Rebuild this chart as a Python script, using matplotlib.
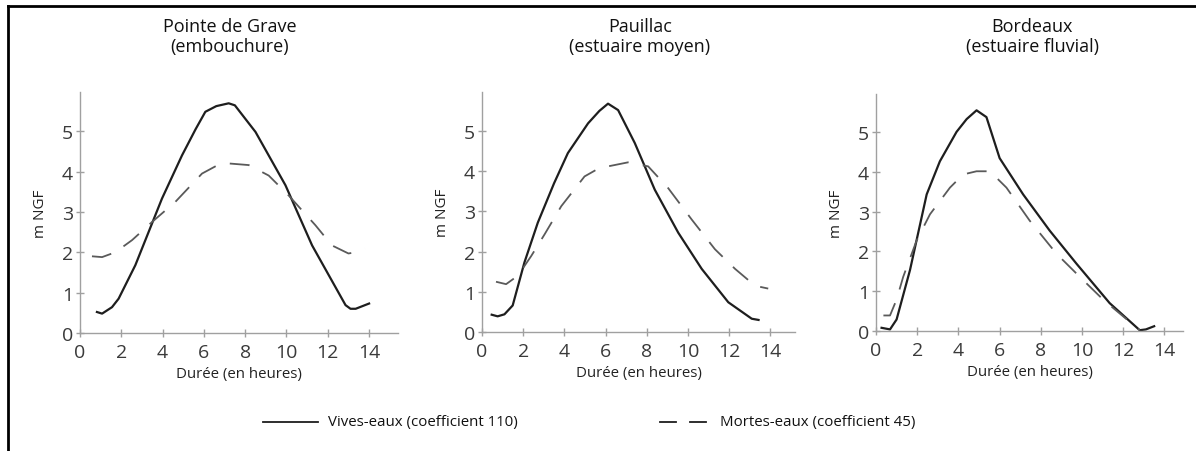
import matplotlib
matplotlib.use("Agg")
import matplotlib.pyplot as plt
from matplotlib.lines import Line2D

plt.rcParams['font.family'] = ['Open Sans', 'DejaVu Sans']

titles = ["Pointe de Grave\n(embouchure)", "Pauillac\n(estuaire moyen)", "Bordeaux\n(estuaire fluvial)"]

# Pointe de Grave
pg_vives_x = [0.82, 1.07, 1.55, 1.87, 2.68, 3.97, 4.94, 5.6, 6.07, 6.6, 7.2, 7.5, 8.5, 9.95, 11.24, 12.86, 13.1, 13.35, 14.0]
pg_vives_y = [0.52, 0.48, 0.64, 0.85, 1.68, 3.33, 4.40, 5.05, 5.48, 5.62, 5.69, 5.64, 4.98, 3.66, 2.17, 0.69, 0.60, 0.60, 0.73]
pg_mortes_x = [0.58, 1.07, 1.71, 2.52, 3.49, 4.62, 5.91, 6.6, 7.2, 8.17, 9.14, 10.1, 11.4, 12.2, 13.0, 13.35, 13.8]
pg_mortes_y = [1.90, 1.88, 2.00, 2.30, 2.75, 3.25, 3.95, 4.14, 4.20, 4.16, 3.90, 3.41, 2.67, 2.17, 1.97, 2.00, 2.09]

# Pauillac
pa_vives_x = [0.47, 0.76, 1.09, 1.49, 2.06, 2.71, 3.5, 4.17, 5.15, 5.7, 6.12, 6.61, 7.42, 8.39, 9.53, 10.67, 11.96, 13.1, 13.43]
pa_vives_y = [0.43, 0.39, 0.44, 0.66, 1.73, 2.72, 3.70, 4.45, 5.19, 5.50, 5.68, 5.52, 4.70, 3.54, 2.47, 1.57, 0.74, 0.33, 0.30]
pa_mortes_x = [0.68, 1.17, 1.74, 2.39, 3.04, 3.85, 4.98, 5.6, 6.12, 7.09, 8.07, 9.04, 10.18, 11.31, 12.29, 13.26, 13.9]
pa_mortes_y = [1.25, 1.19, 1.40, 1.89, 2.43, 3.13, 3.87, 4.05, 4.12, 4.22, 4.12, 3.58, 2.80, 2.06, 1.57, 1.15, 1.08]

# Bordeaux
bx_vives_x = [0.27, 0.68, 1.0, 1.65, 2.46, 3.1, 3.91, 4.4, 4.88, 5.36, 6.0, 7.14, 8.43, 9.73, 11.34, 12.8, 13.1, 13.5]
bx_vives_y = [0.08, 0.04, 0.29, 1.53, 3.43, 4.26, 5.00, 5.32, 5.54, 5.37, 4.34, 3.43, 2.52, 1.69, 0.70, 0.02, 0.04, 0.12]
bx_mortes_x = [0.36, 0.68, 1.0, 1.32, 1.97, 2.62, 3.59, 4.23, 4.88, 5.53, 6.33, 7.46, 8.76, 9.89, 11.02, 11.99, 12.8]
bx_mortes_y = [0.39, 0.39, 0.79, 1.36, 2.27, 2.93, 3.60, 3.93, 4.01, 4.01, 3.60, 2.77, 1.94, 1.36, 0.79, 0.37, 0.02]

series = [
    (pg_vives_x, pg_vives_y, pg_mortes_x, pg_mortes_y),
    (pa_vives_x, pa_vives_y, pa_mortes_x, pa_mortes_y),
    (bx_vives_x, bx_vives_y, bx_mortes_x, bx_mortes_y),
]

xticks = [0, 2, 4, 6, 8, 10, 12, 14]
yticks = [0, 1, 2, 3, 4, 5]
xlabel = "Durée (en heures)"
ylabel = "m NGF"
legend_labels = ["Vives-eaux (coefficient 110)", "Mortes-eaux (coefficient 45)"]

W, H = 1196, 452
fig = plt.figure(figsize=(W / 100, H / 100), dpi=100)

# axes boxes in pixels: left, right, bottom, top
boxes = [(80, 398, 334, 93), (482, 795, 333, 93), (876, 1183, 332, 95)]
title_cx = [230, 640, 1032]
xmax_list = [15.4, 15.2, 14.9]
ymax_list = [5.97, 5.97, 5.95]

solid_col = "#1e1e1e"
dash_col = "#5a5a5a"
axis_col = "#a0a0a0"

for i, (l, r, b, t) in enumerate(boxes):
    ax = fig.add_axes([l / W, 1 - b / H, (r - l) / W, (b - t) / H])
    vx, vy, mx, my = series[i]
    ax.plot(vx, vy, color=solid_col, lw=1.6, solid_joinstyle='round')
    ax.plot(mx, my, color=dash_col, lw=1.3, dashes=(11, 8))
    ax.set_xlim(0, xmax_list[i])
    ax.set_ylim(0, ymax_list[i])
    ax.set_xticks(xticks)
    ax.set_yticks(yticks)
    for s in ["top", "right"]:
        ax.spines[s].set_visible(False)
    for s in ["left", "bottom"]:
        ax.spines[s].set_color(axis_col)
        ax.spines[s].set_linewidth(1.0)
    ax.tick_params(axis='both', direction='inout', length=6, width=1.0, color=axis_col,
                   labelsize=14, labelcolor="#3a3a3a")
    ax.tick_params(axis='x', pad=4)
    ax.tick_params(axis='y', pad=2)
    ax.set_xlabel(xlabel, fontsize=10.8, color="#222222", labelpad=4)
    ax.set_ylabel(ylabel, fontsize=11, color="#222222", labelpad=10)
    ax.patch.set_alpha(0)
    fig.text(title_cx[i] / W, 1 - 37 / H, titles[i], fontsize=13, color="#111111",
             ha='center', va='center', linespacing=1.2)

# figure border (left and top)
fig.add_artist(Line2D([8 / W, 8 / W], [0, 1 - 7 / H], color="black", lw=2, transform=fig.transFigure))
fig.add_artist(Line2D([8 / W, 1], [1 - 7 / H, 1 - 7 / H], color="black", lw=2, transform=fig.transFigure))

# legend
ly = 1 - 423 / H
fig.add_artist(Line2D([263 / W, 318 / W], [ly, ly], color=solid_col, lw=1.3, transform=fig.transFigure))
fig.text(328 / W, ly, legend_labels[0], fontsize=10.8, va='center', ha='left', color="#111111")
fig.add_artist(Line2D([660 / W, 676 / W], [ly, ly], color=solid_col, lw=1.3, transform=fig.transFigure))
fig.add_artist(Line2D([690 / W, 706 / W], [ly, ly], color=solid_col, lw=1.3, transform=fig.transFigure))
fig.text(720 / W, ly, legend_labels[1], fontsize=10.8, va='center', ha='left', color="#111111")

fig.savefig("out.png", dpi=100, facecolor="white")
